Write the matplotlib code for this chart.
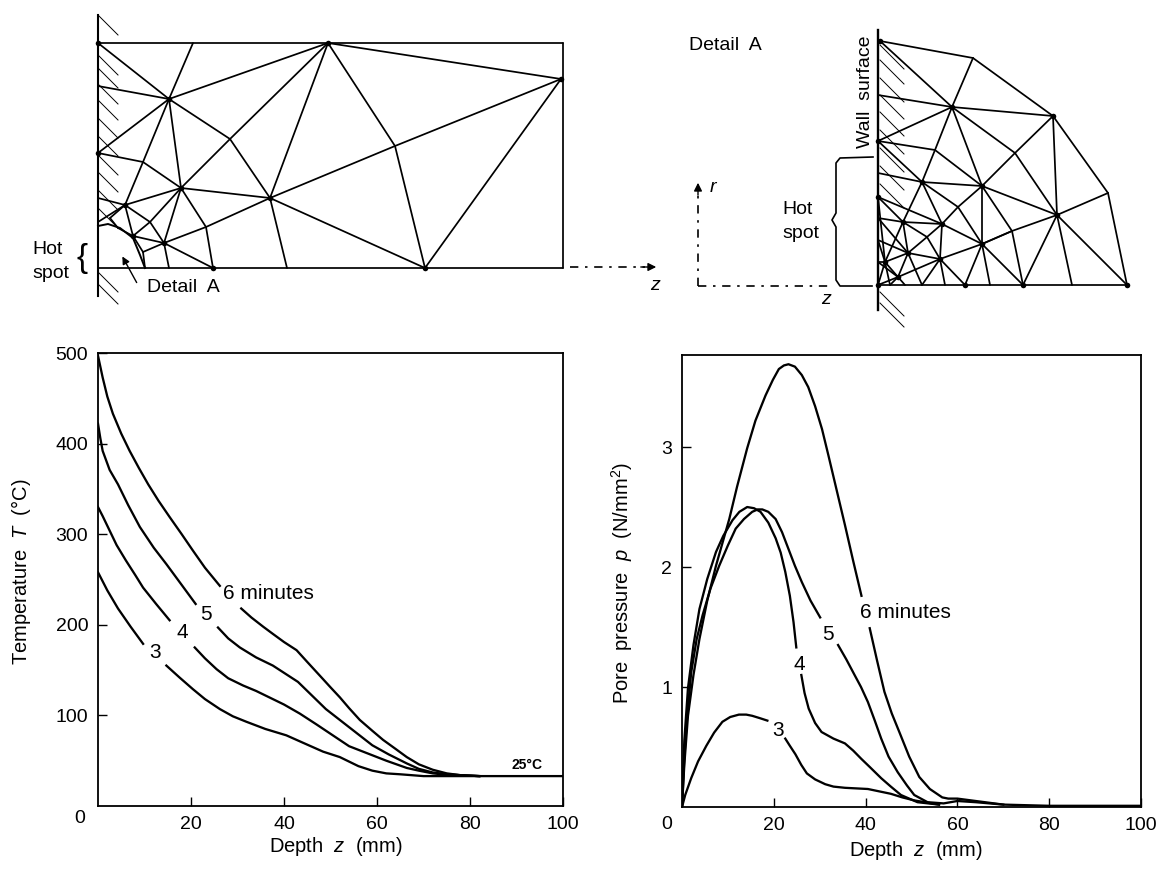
import matplotlib
matplotlib.use("Agg")
import matplotlib.pyplot as plt

plt.rcParams['font.family'] = ['Liberation Sans', 'DejaVu Sans']
plt.rcParams['mathtext.fontset'] = 'custom'
plt.rcParams['mathtext.it'] = 'Liberation Sans:italic'
plt.rcParams['mathtext.rm'] = 'Liberation Sans'

W, H = 1158, 873
nan = float('nan')

# temperature curves, z in mm and T in deg C; nan = gap left for the label
t6_z = [0, .5, 1, 2, 3.2, 5, 6.8, 8.8, 10.8, 13, 15.4, 18, 20.4, 23, 26.2, nan, 30.8, 33, 35.5, 37.6, 40, 42.7, 45, 48.4, 50, 52, 54, 56.3, 59, 61.3, 64, 66.4, 69, 72, 75, 78, 82, 100]
t6_T = [497, 485, 473, 452, 433, 411, 392, 373, 355, 337, 319, 300, 282, 263, 243, nan, 218, 208, 198, 190, 181, 172, 159, 140, 131, 120, 108, 95, 83, 73, 63, 54, 46, 40, 36, 34, 33, 33]
t5_z = [0, .5, 1, 2.5, 4.3, 6.5, 9, 12, 14.7, 18, 21, nan, 25.8, 28, 30.5, 34, 37.6, 40, 43, 46, 49, 52, 55.5, 59, 62.5, 66.4, 69, 72, 75, 78, 82]
t5_T = [422, 406, 392, 371, 355, 332, 308, 285, 267, 244, 223, nan, 197, 185, 175, 164, 155, 147, 137, 122, 107, 95, 81, 67, 57, 47, 41, 37, 35, 34, 33]
t4_z = [0, 1, 2.5, 4, 6, 8, 9.7, 12.5, 15.4, nan, 20.8, 23, 25.5, 28, 31.2, 34, 37.6, 40, 43.4, 47, 50.5, 54, 57, 59, 62, 66.4, 69, 72, 75, 78, 82]
t4_T = [330, 320, 304, 288, 271, 255, 241, 223, 205, nan, 175, 163, 151, 141, 133, 127, 118, 112, 102, 90, 78, 66, 60, 56, 50, 42, 39, 36, 34.5, 34, 33]
t3_z = [0, 2, 4.3, 7, 9.7, nan, 14.7, 17.5, 20.4, 23, 26.2, 29, 31.9, 36, 40.5, 44, 48.4, 52, 56, 59, 62, 65, 70, 75, 82]
t3_T = [258, 238, 218, 198, 179, nan, 155, 142, 129, 118, 107, 99, 93, 85, 78, 70, 60, 54, 44, 39, 36, 35, 33, 33, 33]

# pore pressure curves, z in mm and p in N/mm2
p6_z = [0, .5, 1.3, 2.5, 3.8, 5.5, 7.4, 10.3, 12, 14.2, 16, 18.2, 19.8, 21.1, 22.2, 23.2, 24.6, 26.1, 27.5, 29, 30.5, 31.9, 33.7, 35.5, 37.3, 39.1, nan, 40.9, 42.5, 44.1, 45.7, 47.4, 49.5, 51.7, 54, 56.7, 58, 60, 64, 70, 80, 100]
p6_p = [0, .35, .76, 1.1, 1.40, 1.72, 2.01, 2.40, 2.67, 2.99, 3.22, 3.43, 3.56, 3.65, 3.68, 3.69, 3.67, 3.60, 3.50, 3.34, 3.15, 2.93, 2.64, 2.35, 2.05, 1.76, nan, 1.49, 1.22, .96, .78, .62, .42, .25, .15, .08, .07, .07, .05, .02, .01, .01]
p5_z = [0, .5, 1, 2, 3.2, 4.5, 6.2, 8.1, 10, 11.7, 13.5, 15.3, 16.5, 17.5, 18.8, 20.4, 21.8, 23.2, 24.6, 26.1, 28, 30.1, nan, 34, 35.8, 37.6, 39, 40.5, 42, 43.4, 45, 47, 49, 50.6, 53.5, 57, 60, 64, 70]
p5_p = [0, .4, .7, 1.12, 1.4, 1.6, 1.82, 2.01, 2.18, 2.32, 2.40, 2.46, 2.48, 2.48, 2.46, 2.40, 2.29, 2.15, 2.01, 1.875, 1.72, 1.58, nan, 1.35, 1.23, 1.10, 1.0, .875, .72, .57, .42, .29, .18, .10, .04, .03, .05, .04, .02]
p4_z = [0, .5, 1.3, 2.5, 3.8, 5.5, 7.4, 9, 11, 12.5, 14.2, 15.7, 17.1, 18.8, 20.4, 21.5, 22.5, 23.5, 24.3, 24.9, nan, 26, 26.7, 27.6, 29, 30.4, 33, 35.5, 37.3, 39.1, 41, 43.4, 45.5, 47.7, 49.5, 51.3, 56]
p4_p = [0, .55, .99, 1.35, 1.65, 1.9, 2.125, 2.26, 2.39, 2.46, 2.5, 2.49, 2.46, 2.37, 2.24, 2.12, 1.96, 1.76, 1.54, 1.33, nan, 1.10, .95, .82, .70, .625, .57, .53, .47, .40, .33, .24, .17, .10, .07, .04, .02]
p3_z = [0, .7, 2, 3.5, 5.3, 7, 8.8, 10.5, 12.4, 14, 15.3, 17, 18.6, nan, 22.5, 23.5, 24.7, 26, 27.2, 29, 31.2, 33, 35.5, 38, 40.5, 43, 45.5, 48, 50.6, 56]
p3_p = [0, .1, .24, .38, .51, .62, .71, .75, .77, .77, .76, .74, .72, nan, .57, .51, .44, .35, .28, .23, .19, .17, .16, .155, .15, .13, .11, .08, .055, .02]

temp_curves = [(t6_z, t6_T), (t5_z, t5_T), (t4_z, t4_T), (t3_z, t3_T)]
pres_curves = [(p6_z, p6_p), (p5_z, p5_p), (p4_z, p4_p), (p3_z, p3_p)]

# left mesh: nodes in picture pixels
left_nodes = {
    'w0': (98, 43), 'w1': (98, 86), 'w2': (98, 153), 'w3': (98, 198), 'w4': (98, 222), 'w5': (98, 252),
    't1': (193, 43), 't2': (328, 43), 't3': (563, 43), 'r1': (561, 79), 'br': (563, 268),
    'c': (169, 99), 'd': (230, 139), 'e': (143, 162), 'f': (181, 188), 'g': (270, 198), 'm': (395, 146),
    'h': (125, 205), 'i': (150, 222), 'j': (206, 227), 'k': (133, 236), 'l': (164, 243), 'n': (143, 252),
    'b0': (98, 268), 'b1': (145, 268), 'b2': (169, 268), 'b3': (213, 268), 'b4': (287, 268), 'b5': (425, 268),
    'a1': (110, 218), 'a2': (118, 228),
}
left_edges = [
    ('w0', 't3'), ('t2', 'r1'), ('t3', 'br'), ('b0', 'br'), ('w0', 'c'), ('t1', 'c'), ('t2', 'c'), ('t2', 'd'),
    ('t2', 'g'), ('t2', 'm'), ('w1', 'c'), ('w2', 'c'), ('c', 'd'), ('c', 'f'), ('c', 'e'), ('e', 'h'), ('w2', 'e'),
    ('e', 'f'), ('d', 'f'), ('d', 'g'), ('f', 'g'), ('f', 'h'), ('f', 'i'), ('f', 'l'), ('f', 'j'), ('g', 'j'),
    ('j', 'l'), ('j', 'b3'), ('g', 'b4'), ('g', 'm'), ('m', 'r1'), ('m', 'b5'), ('r1', 'b5'), ('g', 'b5'),
    ('w3', 'h'), ('h', 'i'), ('i', 'l'), ('h', 'k'), ('k', 'n'), ('n', 'b1'), ('i', 'k'), ('k', 'l'), ('l', 'n'),
    ('l', 'b2'), ('l', 'b3'), ('w4', 'h'), ('h', 'a1'), ('a1', 'a2'), ('a2', 'k'),
]
left_dots = ['w0', 't2', 'c', 'f', 'g', 'h', 'l', 'k', 'b3', 'r1', 'b5', 'w2']
left_hatch_y = [15, 55, 68, 84, 100, 118, 136, 155, 172, 190, 208, 272, 284]

# right mesh (Detail A): nodes in picture pixels
right_nodes = {
    'o0': (880, 41), 'o1': (973, 58), 'o2': (1053, 116), 'o3': (1108, 193), 'o4': (1127, 285),
    'a': (952, 107), 'w1': (878, 95), 'w2': (878, 141), 'd': (935, 150), 'e': (1015, 153), 'f': (922, 182),
    'g': (982, 186), 'h': (1057, 215), 'w3': (878, 173), 'w4': (878, 197), 'k': (958, 207), 'l': (903, 222),
    'm': (942, 224), 'n': (1012, 231), 'o': (982, 244), 'p': (927, 237), 'w5': (878, 218), 'r': (940, 259),
    's': (908, 253), 't': (885, 262), 'u': (898, 277), 'w6': (878, 240), 'w7': (878, 262),
    'v': (1072, 285), 'x1': (1023, 285), 'x2': (990, 285), 'x3': (965, 285), 'x4': (945, 285), 'x5': (922, 285),
    'x6': (905, 285), 'x7': (890, 285), 'x0': (878, 285),
}
right_edges = [
    ('o0', 'o1'), ('o1', 'o2'), ('o2', 'o3'), ('o3', 'o4'), ('x0', 'o4'), ('o0', 'a'), ('o1', 'a'), ('a', 'o2'),
    ('w1', 'a'), ('w2', 'a'), ('a', 'd'), ('d', 'f'), ('a', 'e'), ('e', 'h'), ('e', 'o2'), ('e', 'g'), ('a', 'g'),
    ('d', 'g'), ('w2', 'd'), ('w2', 'f'), ('f', 'g'), ('w3', 'f'), ('g', 'h'), ('o2', 'h'), ('h', 'o3'), ('h', 'o4'),
    ('h', 'v'), ('h', 'x1'), ('h', 'n'), ('n', 'o'), ('n', 'x1'), ('g', 'n'), ('g', 'o'), ('g', 'k'), ('k', 'f'),
    ('k', 'm'), ('k', 'o'), ('f', 'm'), ('f', 'l'), ('w4', 'l'), ('w4', 'm'), ('l', 'm'), ('m', 'r'), ('m', 'p'),
    ('m', 'o'), ('p', 'r'), ('p', 's'), ('l', 'p'), ('l', 's'), ('w5', 'l'), ('w5', 's'), ('s', 'r'), ('o', 'r'),
    ('o', 'x1'), ('o', 'x2'), ('o', 'x3'), ('r', 'x3'), ('r', 'x4'), ('r', 'x5'), ('s', 'x5'), ('s', 't'), ('s', 'u'),
    ('t', 'x0'), ('t', 'w6'), ('t', 'w7'), ('t', 'l'), ('u', 'x6'), ('u', 'x7'), ('u', 'r'), ('u', 'x0'), ('t', 'u'),
    ('w6', 's'), ('w7', 'u'), ('w4', 't'), ('x7', 't'), ('o', 'n'),
]
right_dots = ['o0', 'a', 'f', 'g', 'h', 'l', 'm', 'o', 'r', 's', 't', 'u', 'w2', 'w4', 'x0', 'x1', 'x3', 'o4', 'o2']
right_hatch_y = [45, 60, 78, 95, 112, 130, 148, 166, 184, 292, 303]

brace_x = [873, 840, 836, 836, 832, 836, 836, 840, 872]
brace_y = [157, 158, 163, 213, 220, 227, 280, 286, 286]
hot_arc_x = [98, 108, 120, 133, 140, 145]
hot_arc_y = [226, 224, 228, 238, 255, 268]

MESH_LW = 1.25
CURVE_LW = 1.65


def px_axes(fig, x0, x1, y0, y1):
    return fig.add_axes([x0 / W, 1 - y1 / H, (x1 - x0) / W, (y1 - y0) / H])


def draw_mesh(ax, nodes, edges, dots):
    for a, b in edges:
        ax.plot([nodes[a][0], nodes[b][0]], [nodes[a][1], nodes[b][1]],
                color='black', lw=MESH_LW, solid_capstyle='round')
    ax.scatter([nodes[n][0] for n in dots], [nodes[n][1] for n in dots], s=16, color='black', zorder=3, linewidths=0)


def style_plot(ax, xlim, ylim, yticks):
    ax.set_xlim(*xlim)
    ax.set_ylim(*ylim)
    ax.set_xticks([20, 40, 60, 80, 100])
    ax.set_yticks(yticks)
    ax.tick_params(direction='in', length=6.5, width=1.0, labelsize=14, pad=7)
    for s in ax.spines.values():
        s.set_linewidth(1.3)


fig = plt.figure(figsize=(W / 100, H / 100), dpi=100, facecolor='white')

# temperature panel
ax1 = px_axes(fig, 98, 563, 353, 806)
for z, v in temp_curves:
    ax1.plot(z, v, color='black', lw=CURVE_LW, solid_joinstyle='round')
style_plot(ax1, (0, 100), (0, 500), [100, 200, 300, 400, 500])
ax1.text(-3.9, -14, '0', fontsize=14, ha='center', va='center')
for x, y, s, ha in [(26.9, 235, '6 minutes', 'left'), (23.2, 211, '5', 'center'),
                    (18.1, 191, '4', 'center'), (12.3, 169, '3', 'center')]:
    ax1.text(x, y, s, fontsize=15, ha=ha, va='center')
ax1.text(92.2, 45, '25°C', fontsize=10, fontweight='bold', ha='center', va='center')

# pore pressure panel
ax2 = px_axes(fig, 682, 1141, 355, 807)
for z, v in pres_curves:
    ax2.plot(z, v, color='black', lw=CURVE_LW, solid_joinstyle='round')
style_plot(ax2, (0, 100), (0, 3.767), [1, 2, 3])
ax2.text(-3.3, -0.15, '0', fontsize=14, ha='center', va='center')
for x, y, s, ha in [(38.8, 1.62, '6 minutes', 'left'), (31.8, 1.44, '5', 'center'),
                    (25.5, 1.19, '4', 'center'), (20.9, .64, '3', 'center')]:
    ax2.text(x, y, s, fontsize=15, ha=ha, va='center')

# overlay in picture pixels for the two meshes
top = fig.add_axes([0, 0, 1, 1], facecolor='none')
top.set_xlim(0, W)
top.set_ylim(H, 0)
top.axis('off')

draw_mesh(top, left_nodes, left_edges, left_dots)
draw_mesh(top, right_nodes, right_edges, right_dots)

top.plot([98, 98], [15, 296], color='black', lw=1.5)
top.plot([878, 878], [30, 310], color='black', lw=1.7)
for y in left_hatch_y:
    top.plot([98, 98 + 20], [y, y + 20], color='black', lw=0.7)
for y in right_hatch_y:
    top.plot([880, 880 + 24], [y, y + 24], color='black', lw=0.7)

# hot spot arc of the left mesh
top.plot(hot_arc_x, hot_arc_y, color='black', lw=1.4)

# centre lines and arrows
top.plot([570, 645], [267, 267], color='black', lw=1.2, ls=(0, (5, 4, 1.5, 4)))
top.annotate('', xy=(659, 267), xytext=(638, 267),
             arrowprops=dict(arrowstyle='-|>', color='black', lw=1.0, mutation_scale=12))
top.plot([698, 828], [286, 286], color='black', lw=1.2, ls=(0, (5, 4, 1.5, 4)))
top.plot([698, 698], [286, 195], color='black', lw=1.2, ls=(0, (5, 4, 1.5, 4)))
top.annotate('', xy=(698, 180), xytext=(698, 198),
             arrowprops=dict(arrowstyle='-|>', color='black', lw=1.0, mutation_scale=12))
top.annotate('', xy=(121, 254), xytext=(138, 285),
             arrowprops=dict(arrowstyle='-|>', color='black', lw=1.0, mutation_scale=11))
top.plot(brace_x, brace_y, color='black', lw=1.2)

fs = 14
top.text(147, 288, 'Detail  A', fontsize=fs, ha='left', va='center')
top.text(32, 250, 'Hot', fontsize=fs, ha='left', va='center')
top.text(32, 274, 'spot', fontsize=fs, ha='left', va='center')
top.text(82, 258, '{', fontsize=24, ha='center', va='center', fontweight='light')
top.text(655, 285, 'z', fontsize=fs, style='italic', ha='center', va='center')
top.text(689, 45, 'Detail  A', fontsize=fs, ha='left', va='center')
top.text(865, 92, 'Wall  surface', fontsize=fs, rotation=90, ha='center', va='center')
top.text(782, 210, 'Hot', fontsize=fs, ha='left', va='center')
top.text(782, 233, 'spot', fontsize=fs, ha='left', va='center')
top.text(713, 187, 'r', fontsize=fs, style='italic', ha='center', va='center')
top.text(826, 300, 'z', fontsize=fs, style='italic', ha='center', va='center')

# axis titles, placed to match the letter-spaced originals
top.text(336, 846, r'Depth  $z$  (mm)', fontsize=14.5, ha='center', va='center')
top.text(916, 850, r'Depth  $z$  (mm)', fontsize=14.5, ha='center', va='center')
top.text(21, 572, r'Temperature  $T$  (°C)', fontsize=14.5, rotation=90, ha='center', va='center')
top.text(622, 583, r'Pore  pressure  $p$  (N/mm$^2$)', fontsize=14.5, rotation=90, ha='center', va='center')

fig.savefig('out.png', dpi=100)
